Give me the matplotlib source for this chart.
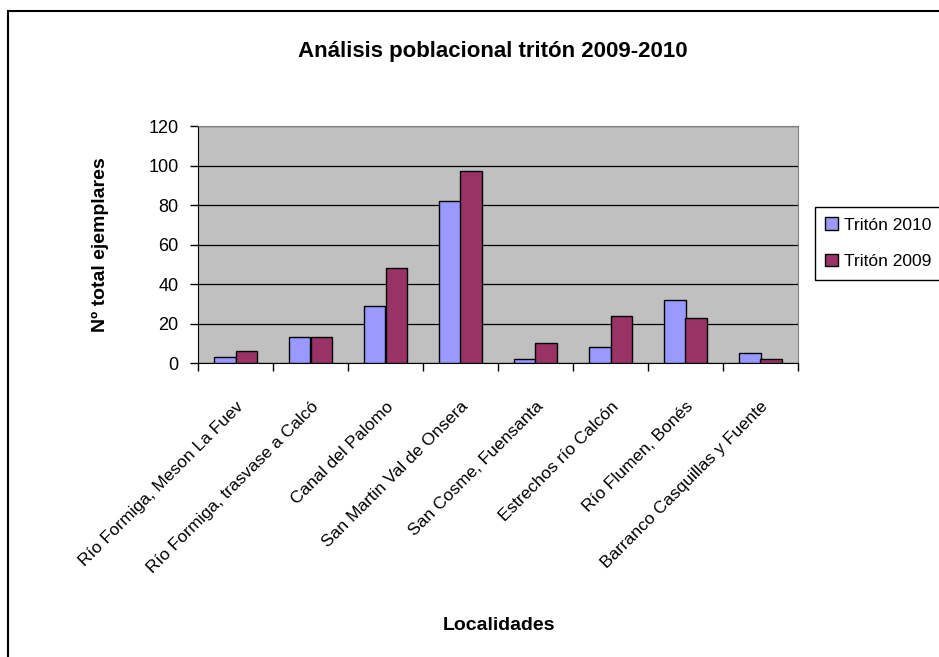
import matplotlib.pyplot as plt
import numpy as np
from matplotlib.patches import Rectangle

plt.rcParams['font.family'] = ['Liberation Sans', 'DejaVu Sans']

localidades = ['Río Formiga, Meson La Fuev',
               'Río Formiga, trasvase a Calcó',
               'Canal del Palomo',
               'San Martin Val de Onsera',
               'San Cosme, Fuensanta',
               'Estrechos río Calcón',
               'Río Flumen, Bonés',
               'Barranco Casquillas y Fuente']
triton_2010 = [3, 13, 29, 82, 2, 8, 32, 5]
triton_2009 = [6, 13, 48, 97, 10, 24, 23, 2]
y_ticks = [0, 20, 40, 60, 80, 100, 120]

c2010 = '#9999FF'
c2009 = '#993366'
W, H = 939, 657

fig = plt.figure(figsize=(W / 100, H / 100), dpi=100)
ax = fig.add_axes([198 / W, 1 - 363 / H, 600 / W, 237 / H])
ax.set_facecolor('#C0C0C0')

x = np.arange(len(localidades))
bw = 0.293
ax.bar(x - bw / 2, triton_2010, bw, color=c2010, edgecolor='black', linewidth=1.0,
       label='Tritón 2010', zorder=3)
ax.bar(x + bw / 2, triton_2009, bw, color=c2009, edgecolor='black', linewidth=1.0,
       label='Tritón 2009', zorder=3)

ax.set_xlim(-0.5, len(localidades) - 0.5)
ax.set_ylim(0, 120)
ax.set_yticks(y_ticks)
ax.yaxis.grid(True, color='black', linewidth=0.9, zorder=1)
ax.tick_params(axis='y', direction='out', length=6, width=1, pad=8, labelsize=13)

# major ticks at category boundaries, labels on minor ticks at the centres
ax.set_xticks(np.arange(len(localidades) + 1) - 0.5)
ax.set_xticklabels([])
ax.tick_params(axis='x', which='major', direction='out', length=6, width=1)
ax.set_xticks(x, minor=True)
ax.set_xticklabels(localidades, minor=True, rotation=45, ha='right',
                   rotation_mode='anchor', fontsize=12.5)
ax.tick_params(axis='x', which='minor', length=0, pad=26)

for s in ['top', 'right']:
    ax.spines[s].set_color('#808080')
for s in ['left', 'bottom']:
    ax.spines[s].set_color('black')

fig.text(493 / W, 1 - 52 / H, 'Análisis poblacional tritón 2009-2010',
         fontsize=16, fontweight='bold', ha='center', va='center')
fig.text(100 / W, 1 - 245 / H, 'Nº total ejemplares', fontsize=14, fontweight='bold',
         rotation=90, ha='center', va='center')
fig.text(499 / W, 1 - 625 / H, 'Localidades', fontsize=14, fontweight='bold',
         ha='center', va='center')

leg = fig.legend(loc='upper left', bbox_to_anchor=(815 / W, 1 - 207 / H),
                 borderaxespad=0, fontsize=12.5, frameon=True, fancybox=False,
                 framealpha=1, edgecolor='black', handlelength=0.7, handleheight=0.7,
                 handletextpad=0.35, labelspacing=1.25, borderpad=0.6)
leg.get_frame().set_linewidth(1.0)

fig.patches.append(Rectangle((8 / W, -0.1), 1.2, 1.1 - 11 / H, transform=fig.transFigure,
                             fill=False, edgecolor='black', linewidth=1.5))

fig.savefig('out.png', dpi=100)
